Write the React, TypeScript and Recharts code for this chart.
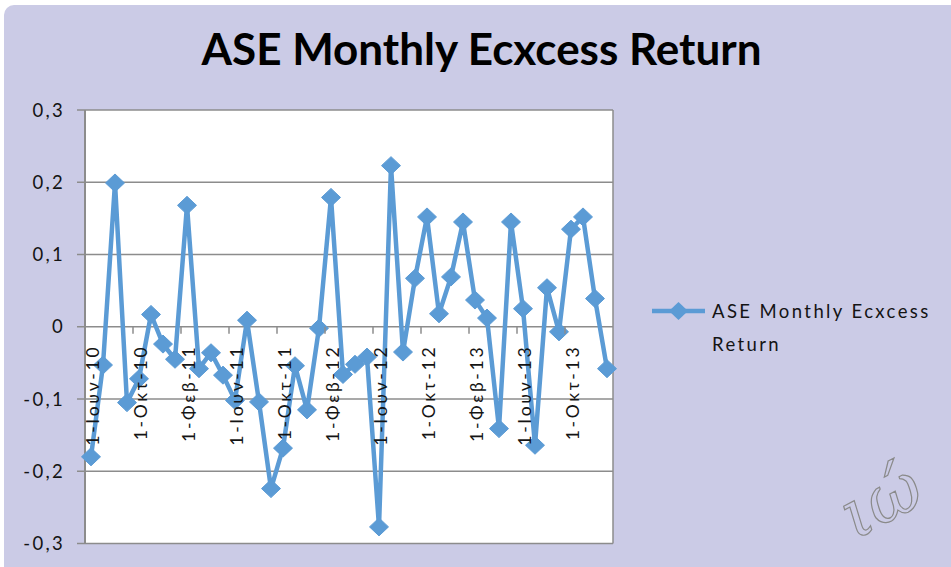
import React from 'react';
import { LineChart, Line, XAxis, YAxis, CartesianGrid } from 'recharts';

const TITLE = 'ASE Monthly Ecxcess Return';
const SERIES_NAME_LINES = ['ASE Monthly Ecxcess', 'Return'];
const WATERMARK = 'ιώ';

const months = [
  '1-Ιουν-10', '1-Ιουλ-10', '1-Αυγ-10', '1-Σεπ-10', '1-Οκτ-10', '1-Νοε-10', '1-Δεκ-10', '1-Ιαν-11',
  '1-Φεβ-11', '1-Μαρ-11', '1-Απρ-11', '1-Μαΐ-11', '1-Ιουν-11', '1-Ιουλ-11', '1-Αυγ-11', '1-Σεπ-11',
  '1-Οκτ-11', '1-Νοε-11', '1-Δεκ-11', '1-Ιαν-12', '1-Φεβ-12', '1-Μαρ-12', '1-Απρ-12', '1-Μαΐ-12',
  '1-Ιουν-12', '1-Ιουλ-12', '1-Αυγ-12', '1-Σεπ-12', '1-Οκτ-12', '1-Νοε-12', '1-Δεκ-12', '1-Ιαν-13',
  '1-Φεβ-13', '1-Μαρ-13', '1-Απρ-13', '1-Μαΐ-13', '1-Ιουν-13', '1-Ιουλ-13', '1-Αυγ-13', '1-Σεπ-13',
  '1-Οκτ-13', '1-Νοε-13', '1-Δεκ-13', '1-Ιαν-14',
];

const excessReturn = [
  -0.180, -0.053, 0.199, -0.105, -0.072, 0.017, -0.024, -0.045,
  0.168, -0.058, -0.036, -0.067, -0.102, 0.009, -0.104, -0.224,
  -0.168, -0.054, -0.115, -0.002, 0.179, -0.066, -0.052, -0.042,
  -0.277, 0.223, -0.035, 0.067, 0.152, 0.018, 0.069, 0.145,
  0.037, 0.012, -0.141, 0.145, 0.025, -0.164, 0.054, -0.007,
  0.135, 0.152, 0.039, -0.058,
];

const yTicks = [-0.3, -0.2, -0.1, 0, 0.1, 0.2, 0.3];
const Y_MIN = -0.3;
const Y_MAX = 0.3;

const data = months.map((m, i) => ({ month: m, value: excessReturn[i] }));

// layout
const W = 951;
const H = 567;
const PLOT_LEFT = 85;
const PLOT_TOP = 110;
const PLOT_RIGHT = 613;
const PLOT_BOTTOM = 543.5;
const X_AXIS_H = 1;
const ZERO_Y = PLOT_TOP + ((PLOT_BOTTOM - PLOT_TOP) * (Y_MAX - 0)) / (Y_MAX - Y_MIN);
const HALF_BAND = (PLOT_RIGHT - PLOT_LEFT) / months.length / 2;

const BG = '#CBCBE6';
const GRID = '#8C8C8C';
const BLUE = '#5B9BD5';
const TEXT = '#141414';
const FONT = "Lato, 'Noto Sans', sans-serif";

const fmt = (v: number) => (v === 0 ? '0' : String(Math.round(v * 10) / 10).replace('.', ','));

const XTick = (props: any) => {
  const { x, payload } = props;
  const tx = x + 1;
  const ty = ZERO_Y + 18;
  return (
    <g>
      <line x1={x - HALF_BAND} x2={x - HALF_BAND} y1={ZERO_Y} y2={ZERO_Y + 7} stroke={GRID} strokeWidth={1.5} />
      <text
        x={tx}
        y={ty}
        transform={`rotate(-90 ${tx} ${ty})`}
        textAnchor="end"
        dominantBaseline="central"
        fontFamily={FONT}
        fontSize={17.5}
        letterSpacing={2.7}
        fill={TEXT}
      >
        {payload.value}
      </text>
    </g>
  );
};

const Diamond = (props: any) => {
  const { cx, cy, index } = props;
  if (cx == null || cy == null) return <g key={index} />;
  const w = 9.5;
  const h = 9;
  return (
    <polygon
      key={index}
      points={`${cx},${cy - h} ${cx + w},${cy} ${cx},${cy + h} ${cx - w},${cy}`}
      fill={BLUE}
      stroke={BLUE}
      strokeWidth={1}
    />
  );
};

export default function App() {
  return (
    <div style={{ position: 'absolute', left: 0, top: 0, width: W, height: H, background: '#fff', overflow: 'hidden' }}>
      <div
        style={{
          position: 'absolute',
          left: 4,
          top: 5,
          width: W - 4,
          height: H - 5,
          background: BG,
          borderTopLeftRadius: 10,
        }}
      />
      <div style={{ position: 'absolute', left: 0, top: 0 }}>
        <LineChart
          width={W}
          height={H}
          data={data}
          margin={{ top: PLOT_TOP, right: W - PLOT_RIGHT, left: 0, bottom: H - PLOT_BOTTOM - X_AXIS_H }}
        >
          <CartesianGrid
            fill="#ffffff"
            fillOpacity={1}
            stroke={GRID}
            strokeWidth={1.5}
            horizontal={true}
            vertical={true}
            verticalCoordinatesGenerator={({ offset }: any) => [offset.left + offset.width]}
          />
          <XAxis
            dataKey="month"
            scale="band"
            height={X_AXIS_H}
            axisLine={false}
            tickLine={false}
            interval={3}
            tick={<XTick />}
          />
          <YAxis
            width={PLOT_LEFT}
            domain={[Y_MIN, Y_MAX]}
            ticks={yTicks}
            tickFormatter={fmt}
            axisLine={{ stroke: GRID, strokeWidth: 2 }}
            tickLine={{ stroke: GRID, strokeWidth: 1.5 }}
            tickSize={8}
            tickMargin={12}
            tick={{ fontFamily: FONT, fontSize: 18.5, letterSpacing: 2.3, fill: TEXT }}
            allowDataOverflow
          />
          <Line
            type="linear"
            dataKey="value"
            stroke={BLUE}
            strokeWidth={4.5}
            dot={<Diamond />}
            activeDot={false}
            isAnimationActive={false}
          />
        </LineChart>
      </div>
      <svg width={W} height={H} style={{ position: 'absolute', left: 0, top: 0, pointerEvents: 'none' }}>
        <text x={481.5} y={65} textAnchor="middle" fontFamily={FONT} fontWeight={700} fontSize={44} fill="#000">
          {TITLE}
        </text>
        <g transform="translate(648 290)">
          <line x1={4} x2={57} y1={21} y2={21} stroke={BLUE} strokeWidth={4.5} />
          <polygon points="30.5,12 40,21 30.5,30 21,21" fill={BLUE} />
          {SERIES_NAME_LINES.map((t, i) => (
            <text key={t} x={64} y={28.3 + i * 32.7} fontFamily={FONT} fontSize={18.5} letterSpacing={2.4} fill={TEXT}>
              {t}
            </text>
          ))}
        </g>
        <text
          x={842}
          y={522}
          transform="rotate(-28 885 505)"
          fontFamily="'DejaVu Serif', serif"
          fontStyle="italic"
          fontSize={68}
          fill="none"
          stroke="#8a8a8a"
          strokeWidth={1.2}
        >
          {WATERMARK}
        </text>
      </svg>
    </div>
  );
}
